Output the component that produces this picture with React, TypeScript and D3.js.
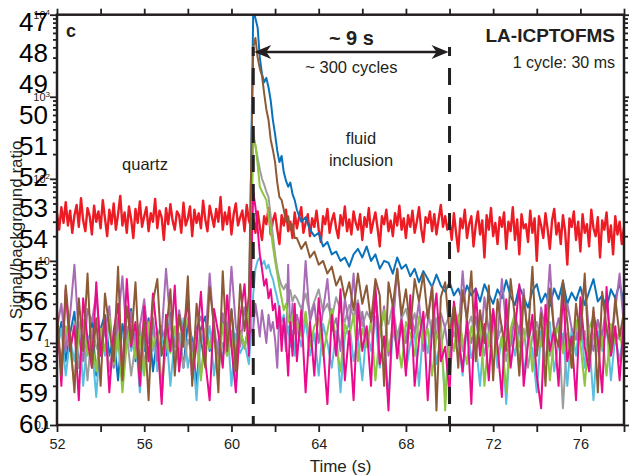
import React, { useEffect, useRef } from "react";
import * as d3 from "d3";

// x axis: time (s)
const xTickLabels = [52, 56, 60, 64, 68, 72, 76];
// y axis: log ratio ticks and their labels
const yTickValues = [10000, 1000, 100, 10, 1, 0.1];
const yTickLabels = [["10", "4"], ["10", "3"], ["10", "2"], ["10", ""], ["1", ""], ["0.1", ""]];
// stray labels overprinted on the y axis in the original figure
const strayLabels = [47, 48, 49, 50, 51, 52, 53, 54, 55, 56, 57, 58, 59, 60];

// markers of the inclusion window (s)
const windowStart = 61;
const windowEnd = 70;

// red trace, one value every 0.1 s
const redStep = 0.1;
const redQuartz = [ // from 52.0 s
  38, 24, 45, 29, 52, 27, 41, 22, 36, 48, 26, 58, 31, 23, 44, 35, 21, 47, 30, 40,
  25, 55, 33, 20, 42, 28, 50, 24, 37, 62, 27, 39, 22, 46, 32, 19, 43, 29, 53, 26,
  35, 45, 23, 38, 30, 57, 25, 41, 34, 18, 44, 28, 49, 31, 24, 40, 36, 22, 51, 27,
  33, 46, 20, 42, 29, 38, 25, 54, 32, 23, 47, 35, 26, 43, 30, 60, 24, 39, 28, 45,
  21, 37, 50, 27, 34, 41, 23, 48, 31, 26,
];
const redInclusion = [ // from 61.0 s
  33, 22, 40, 26, 18, 35, 28, 44, 21, 31, 38, 24, 16, 36, 27, 42, 23, 30, 19, 39,
  25, 34, 45, 22, 29, 37, 20, 33, 26, 41, 24, 17, 35, 28, 43, 22, 31, 38, 25, 19,
  36, 27, 46, 23, 32, 21, 40, 29, 24, 37, 18, 34, 26, 44, 22, 30, 39, 25, 15, 35,
  28, 42, 23, 31, 20, 38, 27, 47, 24, 33, 19, 36, 26, 41, 22, 30, 45, 25, 17, 34,
  29, 40, 23, 37, 21, 32, 48, 26, 35, 24,
];
const redAfter = [ // from 70.0 s
  30, 18, 38, 22, 13, 33, 25, 42, 19, 28, 35, 15, 27, 40, 21, 31, 11, 36, 24, 44,
  20, 29, 16, 34, 26, 39, 14, 30, 23, 45, 18, 32, 12, 37, 25, 28, 17, 41, 22, 33,
  10, 35, 27, 19, 38, 24, 14, 31, 43, 21, 29, 16, 36, 23, 9, 33, 26, 40, 18, 30,
  13, 37, 22, 28, 15, 42, 25, 20, 34, 11, 31, 24, 39, 17, 27, 12, 35, 21, 30, 16, 26,
];

// other traces: pre (52.0 s, every 0.2 s), burst (61.0 s, every 0.1 s), tail (63.0 s, every 0.2 s)
const preStart = 52, preStep = 0.2;
const burstStart = 61, burstStep = 0.1;
const tailStart = 63, tailStep = 0.2;

const bluePre = [
  0.9, 1.8, 0.6, 1.3, 2.4, 0.5, 1.1, 0.8, 1.9, 0.4, 1.5, 2.2, 0.7, 1.2, 0.35,
  1.7, 1, 2.6, 0.6, 1.4, 0.8, 2, 0.45, 1.2, 1.6, 0.7, 2.3, 0.9, 1.3, 0.5,
  1.8, 1.1, 0.3, 1.5, 2.1, 0.8, 1.2, 0.6, 1.9, 1, 2.5, 0.7, 1.4, 0.9, 1.6,
];
const blueBurst = [12000, 9000, 7000, 3000, 1900, 1500, 1700, 1300, 900, 520, 350, 220, 160, 190, 120, 95, 80, 90, 65, 55];
const blueTail = [
  42, 30, 34, 24, 20, 22, 15, 17, 12, 13, 10, 11, 8.5,
  12, 14, 11, 15, 10, 12, 8, 10, 9.5, 7, 11, 8, 9,
  6.5, 8, 5.5, 7.5, 6, 4.8, 6.8, 5, 4.2, 5.5, 3.8, 4.6, 3.2,
  5, 3.8, 4.6, 3.2, 5.2, 3.9, 3, 4.5, 3.5, 5.8, 3.7, 2.9, 4.9,
  3.6, 2.7, 4.3, 5.2, 3.1, 4, 2.8, 4.6, 3.4, 5.6, 3, 4.1, 3.3,
  4.8, 2.9, 4.2, 6, 3.2, 3.8, 2.6, 4.5, 3.5, 5.3, 3, 4.4, 5,
];

const brownPre = [
  2.5, 0.4, 5, 1.2, 0.25, 3.5, 0.8, 7, 0.5, 2, 0.3, 4, 1.5, 0.6, 8.5,
  0.35, 2.8, 1, 5.5, 0.45, 1.8, 0.2, 3.2, 6, 0.7, 1.3, 4.5, 0.4, 2.2, 0.9,
  6.5, 0.3, 3, 1.1, 0.5, 4.8, 1.6, 0.25, 7.5, 0.8, 2.6, 0.45, 5.2, 1.4, 3.8,
];
const brownBurst = [4000, 5200, 3000, 2200, 1800, 1100, 700, 520, 300, 225, 160, 90, 60, 55, 42, 30, 35, 24, 28, 19];
const brownTail = [
  19, 14, 17, 11, 13, 9, 10, 7, 8.5, 5, 6.5, 3.5, 5.5,
  2.5, 7, 3, 5, 1.8, 6, 3.8, 0.3, 5.5, 2.8, 8, 2.2, 4.5,
  1.5, 6, 3.2, 7, 2, 4.8, 0.15, 3.6, 5.5, 1.3, 2.8, 0.5, 4.4,
  1.9, 7.5, 0.6, 2.5, 1, 5, 0.35, 3.4, 1.5, 0.8, 6, 2, 0.4,
  3.8, 1.2, 8.5, 0.7, 2.3, 0.3, 4.6, 1.4, 0.9, 5.8, 1.8, 0.5, 3,
  1.1, 7, 0.6, 2.7, 0.25, 4.2, 1.5, 0.8, 3.5, 1.2, 2.4, 0.9, 3,
];

const greenPre = [
  1.2, 0.6, 1.6, 0.9, 0.3, 1.4, 1.9, 0.7, 1.1, 0.45, 1.5, 0.8, 2.1, 0.55, 1.3,
  0.25, 1, 1.7, 0.65, 1.2, 0.4, 1.8, 0.9, 1.4, 0.22, 1.1, 0.75, 1.6, 0.5, 1.3,
  2, 0.6, 1, 0.35, 1.5, 0.85, 1.2, 0.45, 1.7, 0.7, 1.1, 0.3, 1.4, 0.9, 1.6,
];
const greenBurst = [320, 260, 150, 80, 70, 62, 55, 35, 24, 15, 10, 7, 4.8, 3.5, 2.5, 3, 2, 1.6, 2.2, 1.3];
const greenTail = [
  1.8, 1.2, 2.4, 0.9, 1.6, 2, 0.7, 1.4, 2.6, 1, 0.45, 1.7, 1.2,
  2.2, 0.6, 1.5, 0.9, 1.9, 0.35, 1.3, 2.5, 0.8, 1.6, 1.1, 0.5, 1.8,
  1.3, 0.7, 2.1, 1, 1.5, 0.4, 1.2, 1.9, 0.15, 1.4, 0.8, 2.2, 1.1,
  0.55, 1.6, 0.9, 2, 0.3, 1.3, 1.7, 0.7, 1.2, 0.25, 1.5, 2.3, 0.6,
  1.1, 1.8, 0.45, 1.4, 0.9, 2, 0.35, 1.2, 1.6, 0.75, 1.3, 0.5, 1.9,
  1, 0.3, 1.5, 2.1, 0.8, 1.2, 0.4, 1.7, 1, 1.4, 0.6, 1.8, 1.1,
];

const magentaPre = [
  2.5, 0.3, 4.5, 0.8, 1.6, 0.2, 3.5, 1.1, 0.5, 5.5, 0.7, 2, 0.25, 1.4, 3,
  0.4, 6, 0.9, 1.8, 0.3, 2.8, 0.6, 4, 1.2, 0.18, 2.2, 0.8, 5, 0.45, 1.5,
  3.2, 0.35, 1, 4.2, 0.6, 0.2, 2.6, 1.3, 0.5, 3.8, 0.9, 0.25, 2, 5.2, 0.7,
];
const magentaBurst = [70, 45, 25, 12, 8, 5, 6, 3.5, 4.5, 2.5, 3, 1.5, 2.8, 0.8, 2, 1.1, 0.4, 1.8, 0.7, 3];
const magentaTail = [
  0.6, 2.5, 0.25, 1.8, 0.4, 3.5, 0.9, 0.18, 2.2, 0.7, 4.5, 0.35, 1.4,
  0.2, 3, 0.8, 1.6, 0.3, 5, 0.55, 1.2, 0.15, 2.8, 0.65, 1.9, 0.4,
  3.8, 0.3, 1.1, 2.4, 0.2, 1.5, 4, 0.6, 0.9, 0.25, 3.2, 1.3, 0.45,
  2, 0.18, 4.6, 0.7, 1.7, 0.35, 2.6, 0.9, 0.22, 3.4, 0.5, 1.4, 5.2,
  0.3, 1, 2.2, 0.4, 0.16, 2.9, 0.8, 1.5, 0.3, 4.2, 0.6, 1.2, 0.2,
  3.6, 0.9, 0.45, 2.4, 1.1, 0.25, 4.8, 0.7, 1.6, 0.35, 2, 0.5, 3.2,
];

const cyanPre = [
  0.8, 1.5, 0.4, 1.1, 0.6, 1.8, 0.3, 1.2, 0.9, 0.22, 1.4, 0.7, 1.9, 0.5, 1,
  0.35, 1.6, 0.8, 1.3, 0.25, 1.1, 0.6, 1.7, 0.45, 0.95, 1.5, 0.3, 1.2, 0.7, 2,
  0.5, 1, 0.2, 1.4, 0.85, 1.6, 0.4, 1.1, 0.65, 1.8, 0.3, 1.3, 0.75, 1, 0.55,
];
const cyanBurst = [4, 8, 10, 11, 9, 10, 8, 9, 7, 6, 4.5, 3.5, 2.5, 1.8, 2.2, 1.2, 1.6, 0.9, 1.4, 0.7];
const cyanTail = [
  1.6, 0.9, 1.9, 0.7, 1.3, 0.4, 1.7, 1, 0.5, 1.4, 0.25, 1.2, 1.8,
  0.6, 1.1, 0.35, 1.5, 0.8, 2.1, 0.5, 1.2, 0.2, 1.4, 0.9, 1.7, 0.45,
  1, 1.3, 0.3, 1.6, 0.75, 1.9, 0.55, 1.1, 0.22, 1.4, 0.8, 1.2, 0.4,
  1.7, 0.65, 1, 0.3, 1.5, 0.9, 2, 0.5, 1.2, 0.18, 1.3, 0.7, 1.6,
  0.4, 1.1, 0.85, 0.25, 1.4, 0.6, 1.8, 0.45, 1, 1.3, 0.3, 1.5, 0.7,
  2.2, 0.5, 1.1, 0.2, 1.4, 0.8, 1.7, 0.35, 1.2, 0.6, 1.5, 0.9, 1.1,
];

const greyPre = [
  1, 0.6, 1.4, 0.8, 1.8, 0.5, 1.2, 0.35, 1.5, 0.9, 0.7, 1.6, 0.45, 1.1, 2,
  0.6, 1.3, 0.4, 0.95, 1.7, 0.55, 1.2, 0.8, 1.5, 0.3, 1, 1.9, 0.65, 1.3, 0.5,
  1.1, 0.75, 1.6, 0.4, 1.2, 0.9, 1.8, 0.55, 1, 0.7, 1.4, 0.45, 1.2, 0.85, 1.5,
];
const greyBurst = [350, 250, 180, 130, 100, 85, 70, 60, 35, 20, 12, 8, 6, 5, 4.5, 5.2, 3.8, 4.4, 3.2, 3.8];
const greyTail = [
  3.5, 2.6, 4, 2.2, 3.2, 4.5, 2.4, 3, 2, 3.6, 2.5, 1.8, 2.9,
  2.1, 3.3, 1.6, 2.4, 1.9, 2.8, 1.4, 2.2, 1.7, 3, 1.2, 2, 2.6,
  1.5, 2.3, 1.1, 1.8, 2.5, 1.3, 2, 0.9, 1.6, 2.2, 1.2, 1.8, 0.8,
  1.5, 2.1, 1, 1.7, 0.7, 1.4, 2, 1.1, 1.6, 0.6, 1.3, 1.9, 0.9,
  1.5, 0.5, 1.2, 1.8, 1, 1.4, 0.7, 1.1, 1.6, 0.16, 1.3, 0.8, 1.7,
  1, 1.4, 0.6, 1.2, 1.9, 0.9, 1.5, 0.7, 1.3, 1.1, 1.6, 0.8, 1.2,
];

const purplePre = [
  1.5, 3, 0.8, 2.2, 9, 1.2, 0.6, 2.6, 1.8, 4, 0.9, 1.4, 2.8, 0.5, 1.9,
  6.5, 1.1, 2.4, 0.7, 1.6, 3.4, 1, 2, 0.6, 1.3, 8, 1.7, 0.9, 2.5, 1.2,
  3.8, 0.8, 1.5, 2.1, 1, 7, 1.4, 0.7, 2.3, 1.1, 8.5, 1.6, 0.9, 2.7, 1.3,
];
const purpleBurst = [1.5, 3, 2, 1.2, 2.5, 1.6, 1, 2.2, 1.4, 1.8, 1.1, 0.5, 2.4, 1.3, 1.7, 0.8, 9, 1.2, 3, 1.5];
const purpleTail = [
  2.2, 1.3, 10, 1.8, 3, 1, 2.5, 6, 1.4, 2, 0.8, 3.5, 1.6,
  7, 1.1, 2.4, 0.9, 1.7, 4, 1.2, 2.8, 0.7, 1.5, 8, 1.9, 1,
  2.6, 1.3, 3.2, 0.8, 1.8, 5, 1.1, 2.3, 1.5, 0.6, 2.9, 1.2, 7.5,
  1.7, 1, 2.1, 0.8, 3.6, 1.4, 2.5, 1.1, 6, 1.6, 0.9, 2.2, 1.3,
  4.5, 1, 1.8, 0.7, 2.7, 1.4, 9, 1.2, 2, 0.9, 3, 1.5, 1.1,
  2.4, 5.5, 1.3, 0.8, 1.9, 1.2, 3.3, 1, 2.6, 7, 1.5, 1.1, 2,
];

type Pt = [number, number];
const seg = (vals: number[], t0: number, dt: number): Pt[] => vals.map((v, i) => [t0 + i * dt, v] as Pt);
const trace = (pre: number[], burst: number[], tail: number[]): Pt[] => [
  ...seg(pre, preStart, preStep),
  ...seg(burst, burstStart, burstStep),
  ...seg(tail, tailStart, tailStep),
];

// drawing order: red underneath, brown on top
const traces = [
  { color: "#ed1c24", width: 2.4, points: [...seg(redQuartz, 52, redStep), ...seg(redInclusion, 61, redStep), ...seg(redAfter, 70, redStep)] },
  { color: "#0a72ba", width: 2, points: trace(bluePre, blueBurst, blueTail) },
  { color: "#59bfe0", width: 2, points: trace(cyanPre, cyanBurst, cyanTail) },
  { color: "#9d9d9d", width: 2, points: trace(greyPre, greyBurst, greyTail) },
  { color: "#a86cb4", width: 2, points: trace(purplePre, purpleBurst, purpleTail) },
  { color: "#8cc63e", width: 2, points: trace(greenPre, greenBurst, greenTail) },
  { color: "#ec0a8c", width: 2, points: trace(magentaPre, magentaBurst, magentaTail) },
  { color: "#8c5b36", width: 2, points: trace(brownPre, brownBurst, brownTail) },
];

const W = 629;
const H = 476;
const margin = { top: 14.7, right: 5, bottom: 51, left: 57 };
const ink = "#231f20";
const font = "'Liberation Sans', Arial, Helvetica, sans-serif";

export default function App() {
  const ref = useRef<SVGSVGElement>(null);

  useEffect(() => {
    const svg = d3.select(ref.current);
    svg.selectAll("*").remove();

    const x = d3.scaleLinear().domain([52, 78]).range([margin.left, W - margin.right]);
    const y = d3.scaleLog().domain([0.1, 10000]).range([H - margin.bottom, margin.top]);
    const [x0, x1] = x.range();
    const [yb, yt] = y.range();

    svg.append("defs").append("clipPath").attr("id", "plot-clip")
      .append("rect").attr("x", x0).attr("y", yt).attr("width", x1 - x0).attr("height", yb - yt);

    // traces
    const line = d3.line<Pt>().x(d => x(d[0])).y(d => y(d[1]));
    const g = svg.append("g").attr("clip-path", "url(#plot-clip)");
    traces.forEach(s => {
      g.append("path")
        .attr("d", line(s.points))
        .attr("fill", "none")
        .attr("stroke", s.color)
        .attr("stroke-width", s.width)
        .attr("stroke-linejoin", "round");
    });

    // axes (ticks outside on all four sides)
    const xTickVals = d3.range(52, 79, 2);
    const logTicks = y.ticks();
    const majors = logTicks.filter(v => Math.abs(Math.log10(v) - Math.round(Math.log10(v))) < 1e-9);
    const minors = logTicks.filter(v => !majors.includes(v));

    const styleAxis = (sel: d3.Selection<SVGGElement, unknown, null, undefined>) => {
      sel.select(".domain").remove();
      sel.selectAll(".tick line").attr("stroke", ink).attr("stroke-width", 1.8);
      sel.selectAll(".tick text").attr("fill", ink).attr("font-family", font).attr("font-size", 14.5);
    };

    svg.append("g").attr("transform", `translate(0,${yb})`)
      .call(d3.axisBottom(x).tickValues(xTickVals).tickSize(7).tickPadding(6.5)
        .tickFormat(d => (xTickLabels.includes(+d) ? String(d) : "")))
      .call(styleAxis);
    svg.append("g").attr("transform", `translate(0,${yt})`)
      .call(d3.axisTop(x).tickValues(xTickVals).tickSize(6).tickFormat(() => ""))
      .call(styleAxis);
    svg.append("g").attr("transform", `translate(${x0},0)`)
      .call(d3.axisLeft(y).tickValues(majors).tickSize(7).tickFormat(() => "")).call(styleAxis);
    svg.append("g").attr("transform", `translate(${x0},0)`)
      .call(d3.axisLeft(y).tickValues(minors).tickSize(4).tickFormat(() => "")).call(styleAxis);
    svg.append("g").attr("transform", `translate(${x1},0)`)
      .call(d3.axisRight(y).tickValues(majors).tickSize(7).tickFormat(() => "")).call(styleAxis);
    svg.append("g").attr("transform", `translate(${x1},0)`)
      .call(d3.axisRight(y).tickValues(minors).tickSize(4).tickFormat(() => "")).call(styleAxis);

    svg.append("rect")
      .attr("x", x0).attr("y", yt).attr("width", x1 - x0).attr("height", yb - yt)
      .attr("fill", "none").attr("stroke", ink).attr("stroke-width", 2.5);

    // log labels
    yTickValues.forEach((v, i) => {
      const [base, sup] = yTickLabels[i];
      const t = svg.append("text")
        .attr("x", x0 - 7).attr("y", y(v)).attr("dy", "0.35em")
        .attr("text-anchor", "end").attr("font-family", font).attr("font-size", 11).attr("fill", ink)
        .text(base);
      if (sup) t.append("tspan").attr("dy", "-0.45em").attr("font-size", 8).text(sup);
    });

    // stray overprinted labels
    const stray = d3.scaleLinear().domain([47, 60]).range([yt + 7, yb - 1]);
    strayLabels.forEach(v => {
      svg.append("text")
        .attr("x", x0 - 9).attr("y", stray(v)).attr("dy", "0.36em")
        .attr("text-anchor", "end").attr("font-family", font).attr("font-size", 26).attr("fill", "#000")
        .text(v);
    });

    // inclusion window: dashed lines and arrow
    const arrowY = 52;
    [windowStart, windowEnd].forEach(t => {
      svg.append("line")
        .attr("x1", x(t)).attr("x2", x(t)).attr("y1", arrowY - 5).attr("y2", yb)
        .attr("stroke", ink).attr("stroke-width", 3)
        .attr("stroke-dasharray", "17 12").attr("stroke-dashoffset", 8);
    });
    const ax0 = x(windowStart) + 1;
    const ax1 = x(windowEnd) - 1;
    svg.append("line").attr("x1", ax0 + 8).attr("x2", ax1 - 8).attr("y1", arrowY).attr("y2", arrowY)
      .attr("stroke", ink).attr("stroke-width", 2.6);
    const head = (tip: number, dir: number) =>
      `M${tip},${arrowY}L${tip + dir * 17},${arrowY - 7}L${tip + dir * 12},${arrowY}L${tip + dir * 17},${arrowY + 7}Z`;
    svg.append("path").attr("d", head(ax0, 1)).attr("fill", ink);
    svg.append("path").attr("d", head(ax1, -1)).attr("fill", ink);

    const label = (tx: number, ty: number, txt: string, size: number, opts: { bold?: boolean; anchor?: string } = {}) =>
      svg.append("text")
        .attr("x", tx).attr("y", ty)
        .attr("text-anchor", opts.anchor ?? "middle")
        .attr("font-family", font).attr("font-size", size)
        .attr("font-weight", opts.bold ? "bold" : "normal")
        .attr("fill", ink)
        .text(txt);

    const mid = (x(windowStart) + x(windowEnd)) / 2;
    label(mid, 45, "~ 9 s", 20, { bold: true });
    label(mid, 73, "~ 300 cycles", 16.5);
    label(615, 42, "LA-ICPTOFMS", 19, { bold: true, anchor: "end" });
    label(615, 68, "1 cycle: 30 ms", 16, { anchor: "end" });
    label(66, 37, "c", 18, { bold: true, anchor: "start" });
    label(145, 170, "quartz", 16.5);
    label(361, 144, "fluid", 16.5);
    label(361, 166, "inclusion", 16.5);

    label((x0 + x1) / 2, 472, "Time (s)", 17);
    svg.append("text")
      .attr("transform", `translate(22,${(yt + yb) / 2 + 10}) rotate(-90)`)
      .attr("text-anchor", "middle").attr("font-family", font).attr("font-size", 17).attr("fill", ink)
      .text("Signal/background ratio");
  }, []);

  return (
    <svg
      ref={ref}
      width={W}
      height={H}
      style={{ position: "absolute", left: 0, top: 0, background: "#fff" }}
    />
  );
}
